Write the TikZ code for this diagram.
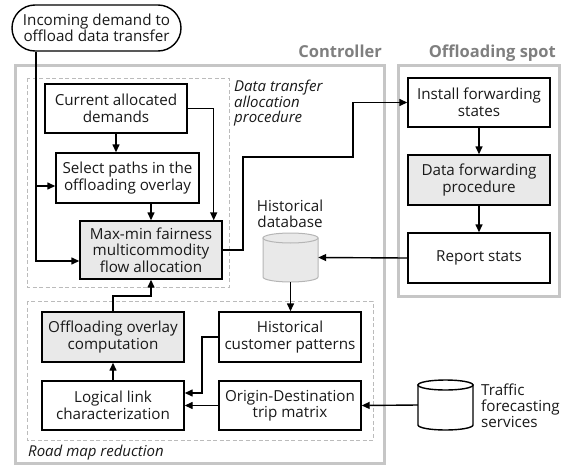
\documentclass[tikz,border=0pt]{standalone}
\usepackage{fontspec}
\setmainfont{Open Sans}
\usetikzlibrary{arrows.meta,calc}
\definecolor{frame}{HTML}{C6C6C6}
\definecolor{dash}{HTML}{BBBBBB}
\definecolor{boxfill}{HTML}{E9E9E9}
\definecolor{lbl}{HTML}{7F7F7F}
\definecolor{dbline}{HTML}{B5B5B5}
\tikzset{
  stepbox/.style={draw=black, line width=1.4pt, inner sep=0pt, align=center,
    minimum width=142pt, minimum height=49pt, font=\fontsize{15.2}{16.5}\selectfont, text=black!90},
  graybox/.style={stepbox, fill=boxfill},
  arr/.style={draw=black, line width=1.4pt, -{Triangle[length=8pt,width=7pt]}},
  outer/.style={draw=frame, line width=3pt},
  dashbox/.style={draw=dash, line width=0.9pt, dash pattern=on 4pt off 2.5pt},
  grouplbl/.style={text=lbl, font=\fontsize{16.5}{18}\selectfont\bfseries, inner sep=0pt},
  itlbl/.style={font=\fontsize{15}{15.5}\selectfont\itshape, inner sep=0pt, align=left, text=black!90},
  plainlbl/.style={font=\fontsize{15.2}{16}\selectfont, inner sep=0pt, text=black!90}
}
\begin{document}
\begin{tikzpicture}[x=1pt,y=-1pt]
\useasboundingbox (0,0) rectangle (570,466);
% frames
\draw[outer] (15,65) rectangle (384,463);
\draw[outer] (398,65) rectangle (559,296);
\draw[dashbox] (27,78) rectangle (229,287);
\draw[dashbox] (27,301) rectangle (373,440);
% labels
\node[grouplbl, anchor=base east] (lc) at (382,57) {Controller};
\node[grouplbl, anchor=base east] (lo) at (556,57) {Offloading spot};
\node[itlbl, anchor=north west] (ldt) at (234,80) {Data transfer\\allocation\\procedure};
\node[itlbl, anchor=west] (lrm) at (28,453) {Road map reduction};
\node[plainlbl, align=center] (lhd) at (290,214) {Historical\\database};
\node[plainlbl, align=left, anchor=west] (ltf) at (481,406) {Traffic\\forecasting\\services};
% nodes
\node[stepbox, rounded corners=23pt, minimum width=169pt, minimum height=46pt] (inc) at (96.5,28) {Incoming demand to\\offload data transfer};
\node[stepbox] (cur) at (116,108.5) {Current allocated\\demands};
\node[stepbox, minimum width=143pt, minimum height=50pt] (sel) at (127.5,178) {Select paths in the\\offloading overlay};
\node[graybox, minimum height=58pt] (mm) at (151,250) {Max-min fairness\\multicommodity\\flow allocation};
\node[stepbox] (ins) at (479,102.5) {Install forwarding\\states};
\node[graybox, minimum height=50pt] (dfp) at (479,180) {Data forwarding\\procedure};
\node[stepbox, minimum height=50pt] (rep) at (479,258) {Report stats};
\node[graybox, minimum height=50pt] (ovl) at (113,337) {Offloading overlay\\computation};
\node[stepbox] (log) at (113,405.5) {Logical link\\characterization};
\node[stepbox, minimum height=50pt] (hcp) at (290,337) {Historical\\customer patterns};
\node[stepbox] (od) at (290,405.5) {Origin-Destination\\trip matrix};
% cylinders
\node[inner sep=0pt, minimum width=55pt, minimum height=49pt] (hdb) at (290.5,257.5) {};
\draw[draw=dbline, fill=boxfill, line width=1pt] (263,238) -- (263,277) arc[start angle=180, end angle=0, x radius=27.5, y radius=5] -- (318,238) -- cycle;
\draw[draw=dbline, fill=boxfill, line width=1pt] (290.5,238) ellipse[x radius=27.5, y radius=5];
\node[inner sep=0pt, minimum width=55pt, minimum height=50pt] (tfs) at (445.5,405) {};
\draw[draw=black, fill=white, line width=1.4pt] (418,385) -- (418,425) arc[start angle=180, end angle=0, x radius=27.5, y radius=5] -- (473,385) -- cycle;
\draw[draw=black, fill=white, line width=1.4pt] (445.5,385) ellipse[x radius=27.5, y radius=5];
% connectors
\draw[arr] (inc.south -| 36,0) -- (36,261) -- (mm.west |- 0,261);
\draw[arr] (36,186) -- (sel.west |- 0,186);
\draw[arr] (cur.south) -- (cur.south |- sel.north);
\draw[arr] (mm.north |- sel.south) -- (mm.north);
\draw[arr] (cur.east) -| ($(mm.north east)+(-9,0)$);
\draw[arr] (mm.east) -| (243,157) -| (353,102.5) -- (ins.west);
\draw[arr] (ins.south) -- (dfp.north);
\draw[arr] (dfp.south) -- (rep.north);
\draw[arr] (rep.west) -- (hdb.east);
\draw[arr] (hdb.south) -- (hdb.south |- hcp.north);
\draw[arr] (tfs.west) -- (od.east);
\draw[arr] (od.west) -- (log.east);
\draw[arr] (hcp.west) -| (202,393) -- (log.east |- 0,393);
\draw[arr] (log.north) -- (ovl.south);
\draw[arr] (ovl.north) -- (113,296) -| (mm.south);
\end{tikzpicture}
\end{document}
